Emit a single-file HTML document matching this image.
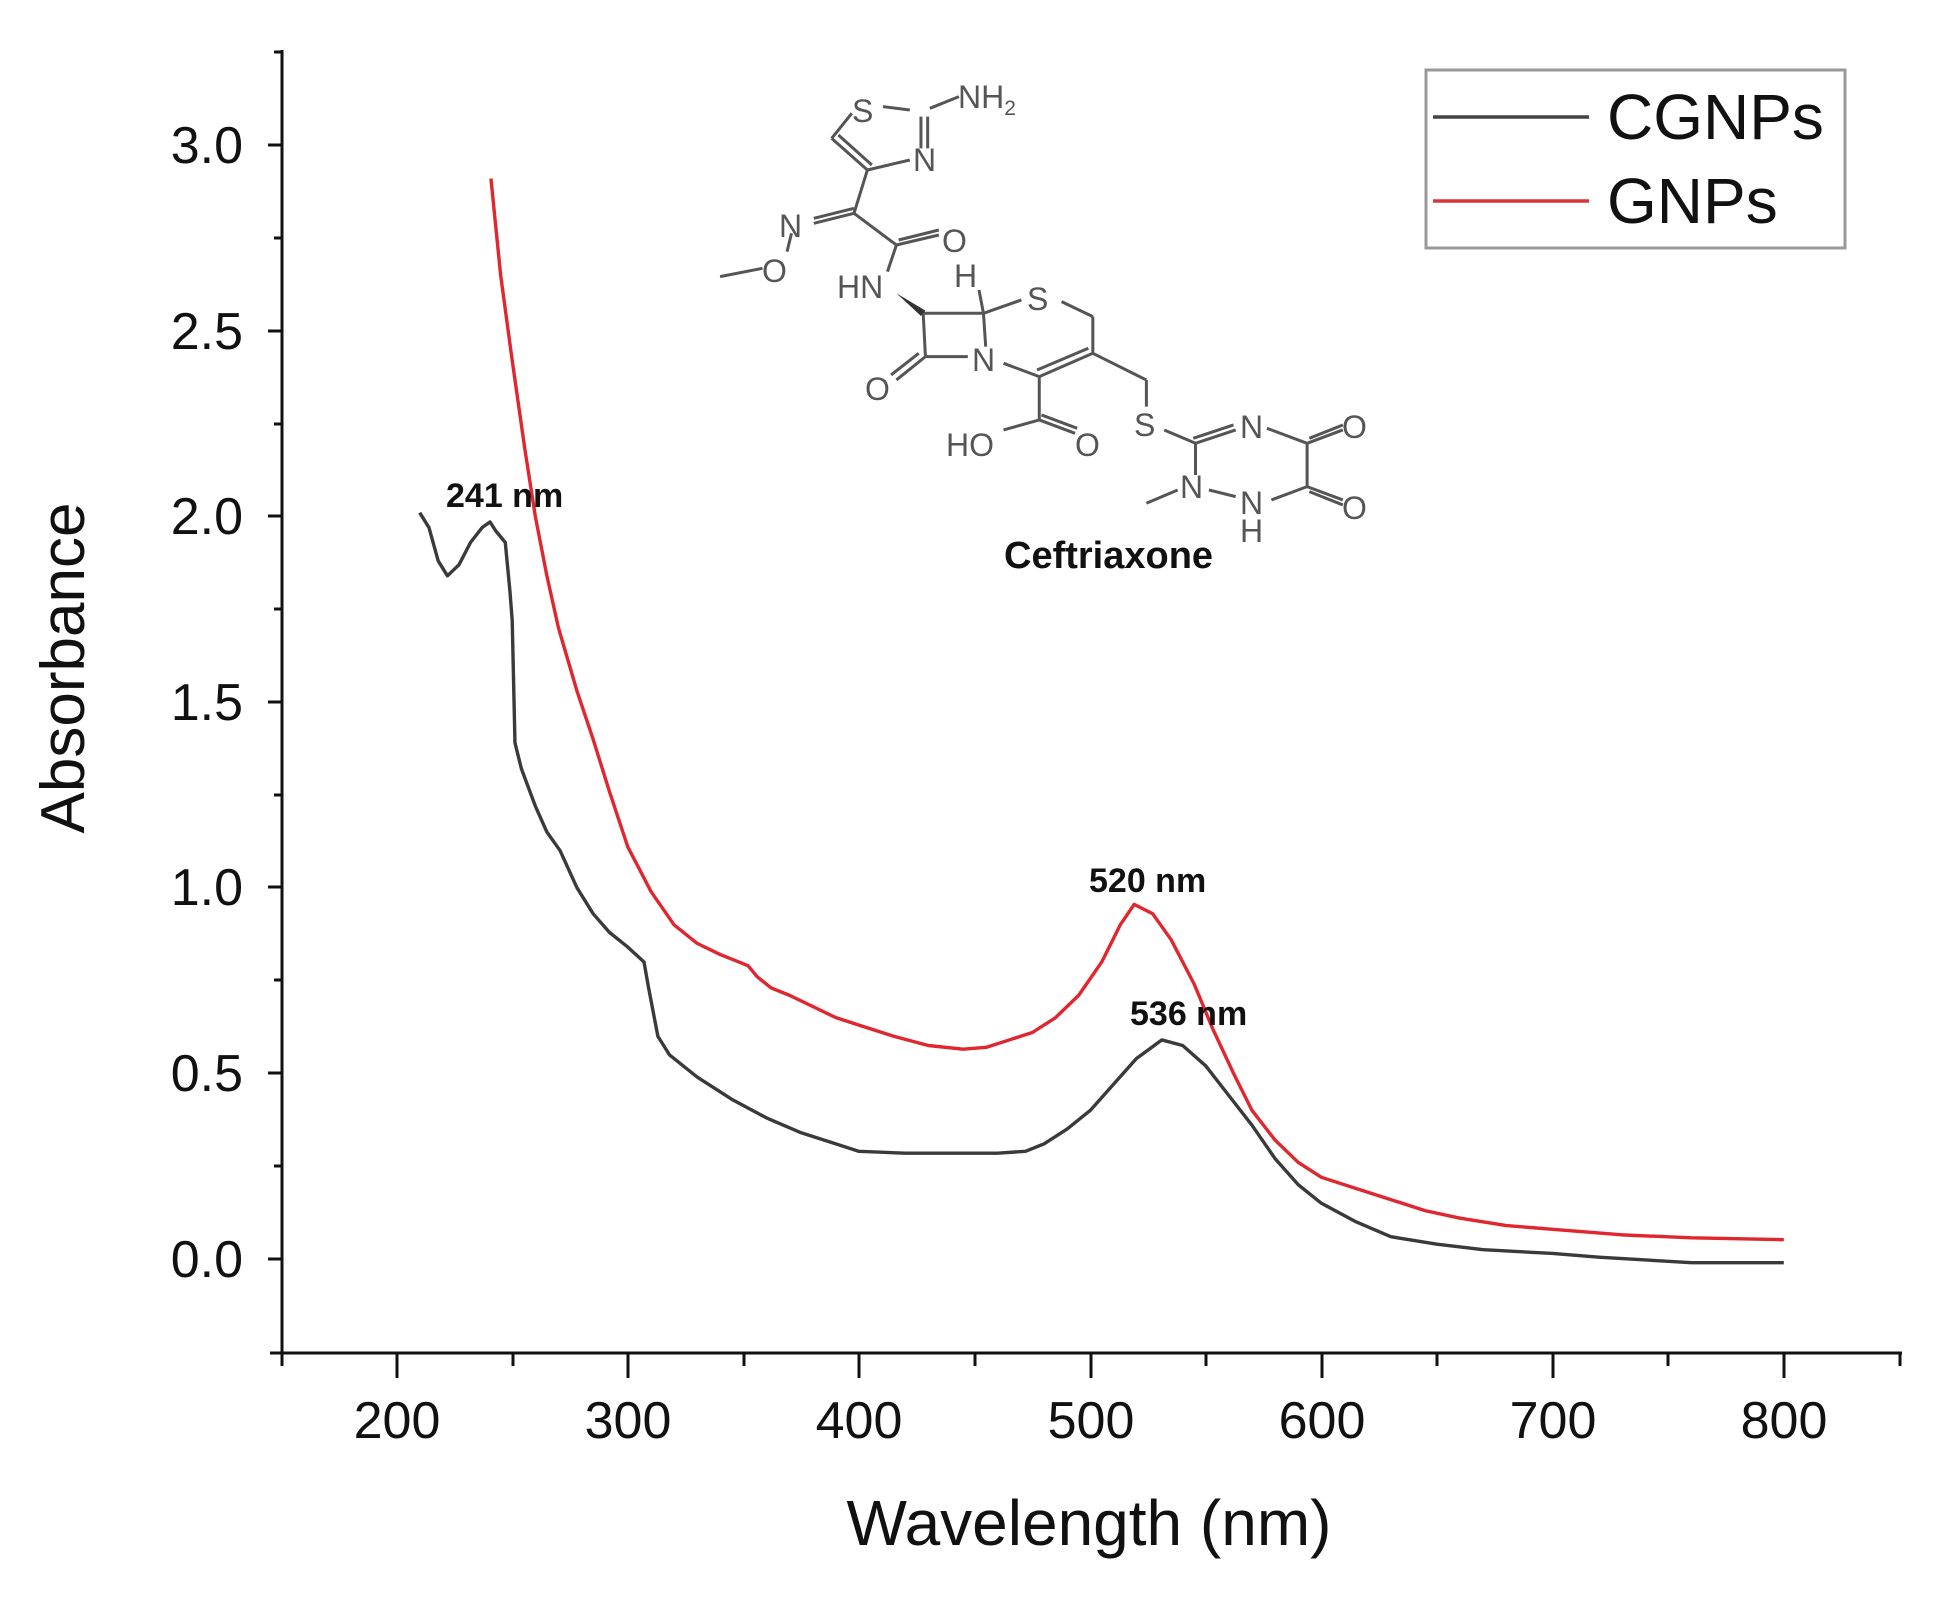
<!DOCTYPE html>
<html><head><meta charset="utf-8"><style>
html,body{margin:0;padding:0;background:#fff;}
svg{display:block;}
text{font-family:"Liberation Sans",sans-serif;}
.b{font-family:"DejaVu Sans","Liberation Sans",sans-serif;font-weight:bold;}
</style></head><body>
<svg width="1942" height="1603" viewBox="0 0 1942 1603" xmlns="http://www.w3.org/2000/svg">
<rect width="1942" height="1603" fill="#fff"/>
<g stroke="#111" stroke-width="3" fill="none">
<line x1="282" y1="50" x2="282" y2="1355"/>
<line x1="270" y1="1353" x2="1902" y2="1353"/>
<line x1="268" y1="1259" x2="282" y2="1259"/>
<line x1="268" y1="1073" x2="282" y2="1073"/>
<line x1="268" y1="887" x2="282" y2="887"/>
<line x1="268" y1="702" x2="282" y2="702"/>
<line x1="268" y1="516" x2="282" y2="516"/>
<line x1="268" y1="331" x2="282" y2="331"/>
<line x1="268" y1="145" x2="282" y2="145"/>
<line x1="274" y1="1166" x2="282" y2="1166"/>
<line x1="274" y1="980" x2="282" y2="980"/>
<line x1="274" y1="795" x2="282" y2="795"/>
<line x1="274" y1="609" x2="282" y2="609"/>
<line x1="274" y1="424" x2="282" y2="424"/>
<line x1="274" y1="238" x2="282" y2="238"/>
<line x1="274" y1="52" x2="282" y2="52"/>
<line x1="397" y1="1353" x2="397" y2="1378"/>
<line x1="628" y1="1353" x2="628" y2="1378"/>
<line x1="859" y1="1353" x2="859" y2="1378"/>
<line x1="1091" y1="1353" x2="1091" y2="1378"/>
<line x1="1322" y1="1353" x2="1322" y2="1378"/>
<line x1="1553" y1="1353" x2="1553" y2="1378"/>
<line x1="1784" y1="1353" x2="1784" y2="1378"/>
<line x1="282" y1="1353" x2="282" y2="1366"/>
<line x1="513" y1="1353" x2="513" y2="1366"/>
<line x1="744" y1="1353" x2="744" y2="1366"/>
<line x1="975" y1="1353" x2="975" y2="1366"/>
<line x1="1206" y1="1353" x2="1206" y2="1366"/>
<line x1="1437" y1="1353" x2="1437" y2="1366"/>
<line x1="1668" y1="1353" x2="1668" y2="1366"/>
<line x1="1900" y1="1353" x2="1900" y2="1366"/>
</g>
<g font-size="52" fill="#111" text-anchor="end">
<text x="243" y="1277">0.0</text>
<text x="243" y="1091">0.5</text>
<text x="243" y="905">1.0</text>
<text x="243" y="720">1.5</text>
<text x="243" y="534">2.0</text>
<text x="243" y="349">2.5</text>
<text x="243" y="163">3.0</text>
</g>
<g font-size="52" fill="#111" text-anchor="middle">
<text x="397" y="1438">200</text>
<text x="628" y="1438">300</text>
<text x="859" y="1438">400</text>
<text x="1091" y="1438">500</text>
<text x="1322" y="1438">600</text>
<text x="1553" y="1438">700</text>
<text x="1784" y="1438">800</text>
</g>
<text x="1089" y="1545" font-size="64" fill="#111" text-anchor="middle">Wavelength (nm)</text>
<text transform="translate(84,668) rotate(-90)" font-size="62" fill="#111" text-anchor="middle">Absorbance</text>

<g transform="translate(281,1259) scale(2.312,-371.3) translate(-150,0)" fill="none" stroke-linejoin="round">
<path vector-effect="non-scaling-stroke" stroke="#e0262e" stroke-width="3.4" d="M240.8,2.91 L245,2.65 250,2.42 255.5,2.18 260,2.0 265,1.84 270,1.7 278,1.53 285,1.4 292,1.26 300,1.11 310,0.99 320,0.9 330,0.85 340,0.82 348,0.8 352,0.79 356,0.76 362,0.73 370,0.71 380,0.68 390,0.65 400,0.63 415,0.6 430,0.575 445,0.565 455,0.57 465,0.59 475,0.61 485,0.65 495,0.71 505,0.8 513,0.9 519,0.955 527,0.93 535,0.86 545,0.74 553,0.62 562,0.5 570,0.4 580,0.32 590,0.26 600,0.22 615,0.19 630,0.16 645,0.13 660,0.11 680,0.09 700,0.08 730,0.065 760,0.057 800,0.052"/>
<path vector-effect="non-scaling-stroke" stroke="#3a3a3a" stroke-width="3.4" d="M210,2.01 L214,1.97 218,1.88 222,1.84 227,1.87 232,1.93 237,1.97 240.4,1.985 243,1.96 247,1.93 249,1.8 250,1.72 251.2,1.39 254,1.32 260,1.22 265,1.15 270.7,1.10 278,1.0 285,0.93 292,0.88 300,0.84 307,0.8 309,0.73 313,0.6 318,0.55 330,0.49 345,0.43 360,0.38 375,0.34 390,0.31 400,0.29 420,0.285 440,0.285 460,0.285 472,0.29 480,0.31 490,0.35 500,0.4 510,0.47 520,0.54 531,0.59 540,0.575 550,0.52 560,0.44 570,0.36 580,0.27 590,0.2 600,0.15 615,0.1 630,0.06 650,0.04 670,0.025 700,0.015 720,0.005 760,-0.01 800,-0.01"/>
</g>

<g class="b" font-size="34" fill="#111">
<text x="446" y="507">241 nm</text>
<text x="1089" y="892">520 nm</text>
<text x="1130" y="1025">536 nm</text>
<text x="1004" y="568" font-size="38">Ceftriaxone</text>
</g>

<rect x="1426" y="70" width="419" height="178" fill="#fff" stroke="#999" stroke-width="3"/>
<line x1="1433" y1="117" x2="1589" y2="117" stroke="#444" stroke-width="3.5"/>
<line x1="1433" y1="201" x2="1589" y2="201" stroke="#d9343c" stroke-width="3.5"/>
<text x="1607" y="139" font-size="64" fill="#111">CGNPs</text>
<text x="1607" y="223" font-size="64" fill="#111">GNPs</text>

<g transform="translate(700,60) scale(0.4464,0.3333)" fill="none" stroke="#555">
<path vector-effect="non-scaling-stroke" stroke-width="3" d="
M340,160 L295,235 M295,235 L375,330 M310,225 L385,315 M375,330 L470,300 M495,265 L495,170 M510,265 L510,170 M470,150 L410,140 M515,145 L580,110
M375,330 L345,460 M345,460 L255,490 M345,445 L255,475 M205,520 L195,575 M140,625 L45,650
M345,460 L440,555 M440,555 L535,525 M445,540 L535,510 M440,555 L420,635
M625,690 L635,760 M500,760 L635,760 M635,760 L720,720 M810,725 L880,770 M880,770 L880,880 M880,880 L760,950 M870,865 L755,930 M760,950 L680,910 M640,860 L635,760 M600,890 L505,890 M505,890 L500,760 M505,890 L440,960 M490,880 L428,945
M760,950 L760,1080 M760,1080 L680,1110 M760,1080 L840,1120 M765,1065 L845,1105
M880,880 L1000,960 M1000,960 L1000,1040 M1040,1110 L1110,1150 M1110,1150 L1200,1110 M1105,1135 L1195,1095 M1270,1105 L1360,1150 M1360,1150 L1440,1110 M1365,1135 L1440,1095 M1360,1150 L1360,1280 M1360,1280 L1440,1320 M1365,1295 L1440,1335 M1360,1280 L1280,1320 M1200,1310 L1140,1290 M1070,1290 L1000,1330 M1110,1245 L1110,1150"/>
<path d="M440,700 L505,752 L495,768 Z" fill="#333" stroke="none"/>
</g>
<g fill="#555" font-size="32" transform="translate(700,60)">
<text x="152" y="62">S</text>
<text x="258" y="48">NH<tspan font-size="21" dy="7">2</tspan></text>
<text x="213" y="111">N</text>
<text x="79" y="177">N</text>
<text x="62" y="222">O</text>
<text x="242" y="192">O</text>
<text x="137" y="238">HN</text>
<text x="254" y="227">H</text>
<text x="327" y="250">S</text>
<text x="272" y="311">N</text>
<text x="165" y="340">O</text>
<text x="246" y="396">HO</text>
<text x="375" y="396">O</text>
<text x="434" y="376">S</text>
<text x="540" y="378">N</text>
<text x="642" y="378">O</text>
<text x="480" y="438">N</text>
<text x="540" y="454">N</text>
<text x="540" y="482">H</text>
<text x="642" y="459">O</text>
</g>
</svg>
</body></html>
